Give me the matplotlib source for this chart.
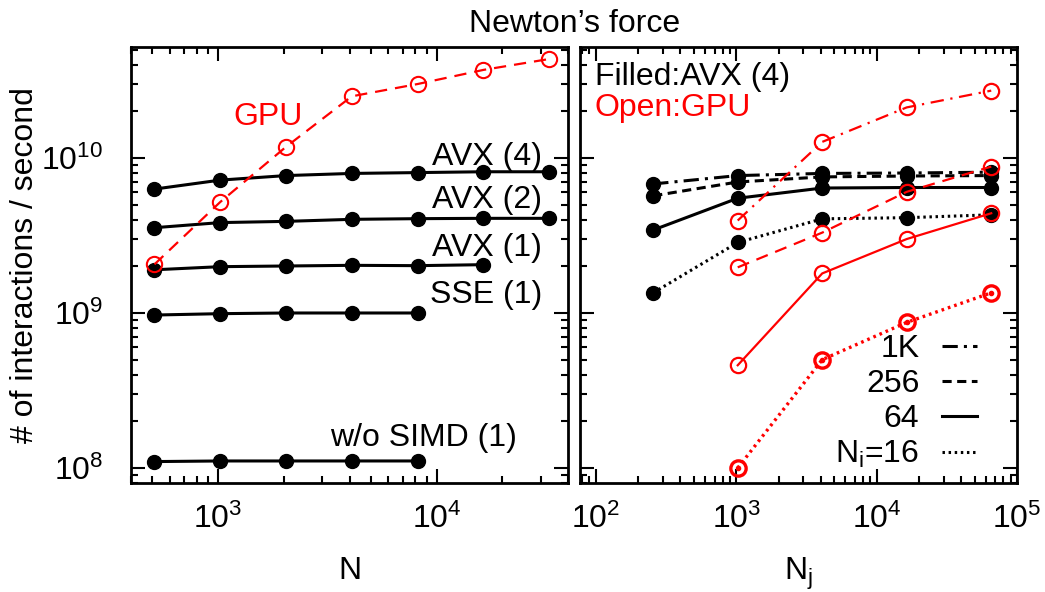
import matplotlib
matplotlib.use('Agg')
import matplotlib.pyplot as plt
from matplotlib.lines import Line2D

plt.rcParams['font.family'] = ['Liberation Sans', 'DejaVu Sans']
plt.rcParams['mathtext.fontset'] = 'custom'
plt.rcParams['mathtext.rm'] = 'Liberation Sans'
plt.rcParams['mathtext.it'] = 'Liberation Sans:italic'
plt.rcParams['mathtext.default'] = 'regular'

# ── Data: left panel (rate vs N) ─────────────────────────────────────────────
n_vals    = [512, 1024, 2048, 4096, 8192, 16384, 32768]
avx4      = [6.3e9, 7.2e9, 7.7e9, 7.95e9, 8.05e9, 8.15e9, 8.15e9]
avx2      = [3.55e9, 3.83e9, 3.9e9, 4.02e9, 4.06e9, 4.08e9, 4.08e9]
avx1      = [1.9e9, 1.99e9, 2.01e9, 2.03e9, 2.02e9, 2.05e9]
sse1      = [9.7e8, 9.9e8, 1.0e9, 1.0e9, 1.0e9]
no_simd   = [1.1e8, 1.11e8, 1.11e8, 1.11e8, 1.11e8]
gpu_n     = [2.06e9, 5.2e9, 1.18e10, 2.5e10, 3.0e10, 3.7e10, 4.35e10]

# ── Data: right panel (rate vs Nj, one curve per Ni) ─────────────────────────
nj_vals   = [256, 1024, 4096, 16384, 65536]
avx_1k    = [6.8e9, 7.7e9, 7.95e9, 8.0e9, 8.1e9]
avx_256   = [5.7e9, 7.0e9, 7.55e9, 7.65e9, 7.7e9]
avx_64    = [3.43e9, 5.5e9, 6.4e9, 6.45e9, 6.45e9]
avx_16    = [1.35e9, 2.85e9, 4.05e9, 4.12e9, 4.3e9]
nj_gpu    = [1024, 4096, 16384, 65536]
gpu_1k    = [3.95e9, 1.27e10, 2.12e10, 2.72e10]
gpu_256   = [1.97e9, 3.3e9, 6.05e9, 8.8e9]
gpu_64    = [4.6e8, 1.8e9, 3.0e9, 4.4e9]
gpu_16    = [1.0e8, 5.0e8, 8.7e8, 1.35e9]

left_labels  = ['AVX (4)', 'AVX (2)', 'AVX (1)', 'SSE (1)', 'w/o SIMD (1)']
legend_names = ['1K', '256', '64', '$N_i$=16']

RED = '#ff0000'
FS = 23
DASHDOT = (0, (5, 2, 1, 2))
DASHED = (0, (3, 1.8))
DOTTED = (0, (0.8, 1.2))


def style_axes(ax):
    ax.set_xscale('log')
    ax.set_yscale('log')
    ax.set_ylim(8e7, 5.2e10)
    ax.tick_params(which='both', direction='in', top=True, right=True,
                   width=1.5, labelsize=23)
    ax.tick_params(axis='x', which='both', pad=15)
    ax.tick_params(axis='y', which='both', pad=20)
    ax.tick_params(which='major', length=10)
    ax.tick_params(which='minor', length=5)
    for s in ax.spines.values():
        s.set_linewidth(2)


fig = plt.figure(figsize=(10.45, 5.92), dpi=100)
axl = fig.add_axes([0.1254, 0.1841, 0.4182, 0.7365])
axr = fig.add_axes([0.555, 0.1841, 0.4182, 0.7365])

# ── Left panel ──
black = dict(color='black', lw=2.2, marker='o', ms=10)
axl.plot(n_vals, avx4, **black)
axl.plot(n_vals, avx2, **black)
axl.plot(n_vals[:len(avx1)], avx1, **black)
axl.plot(n_vals[:len(sse1)], sse1, **black)
axl.plot(n_vals[:len(no_simd)], no_simd, **black)
axl.plot(n_vals, gpu_n, color=RED, lw=1.6, ls=(0, (5.5, 3.6)), marker='o',
         ms=11, mfc='none', mec=RED, mew=1.5)
style_axes(axl)
axl.set_xlim(400, 40000)
axl.set_xlabel('N', fontsize=FS, labelpad=15)

label_y = [0.748, 0.649, 0.539, 0.431]
for lab, y in zip(left_labels[:4], label_y):
    axl.text(0.94, y, lab, transform=axl.transAxes, ha='right', va='center',
             fontsize=FS)
axl.text(0.883, 0.103, left_labels[4], transform=axl.transAxes, ha='right',
         va='center', fontsize=FS)
axl.text(0.313, 0.839, 'GPU', transform=axl.transAxes, ha='center',
         va='center', fontsize=FS, color=RED)

# ── Right panel ──
styles = [DASHDOT, DASHED, '-', DOTTED]
for ys, ls in zip([avx_1k, avx_256, avx_64, avx_16], styles):
    axr.plot(nj_vals, ys, color='black', lw=2.2, ls=ls, marker='o', ms=10)
red_lw = [1.6, 1.6, 1.6, 2.4]
red_styles = [(0, (6, 3, 1, 3)), (0, (5.5, 3.6)), '-', DOTTED]
for ys, ls, lw in zip([gpu_1k, gpu_256, gpu_64, gpu_16], red_styles, red_lw):
    axr.plot(nj_gpu, ys, color=RED, lw=lw, ls=ls, marker='o', ms=11,
             mfc='none', mec=RED, mew=lw)
axr.plot(nj_gpu, gpu_16, ls='none', marker='o', ms=3, color=RED)
style_axes(axr)
axr.set_xlim(77, 1e5)
axr.tick_params(labelleft=False)
axr.set_xlabel('$N_j$', fontsize=FS, labelpad=15)

axr.text(0.034, 0.931, 'Filled:AVX (4)', transform=axr.transAxes, ha='left',
         va='center', fontsize=FS)
axr.text(0.034, 0.860, 'Open:GPU', transform=axr.transAxes, ha='left',
         va='center', fontsize=FS, color=RED)

handles = [Line2D([], [], color='black', lw=2.2, ls=ls) for ls in styles]
axr.legend(handles, legend_names, loc='lower right', frameon=False,
           markerfirst=False, fontsize=FS, handlelength=1.1,
           handletextpad=0.7, labelspacing=0.15, borderpad=0,
           borderaxespad=0, bbox_to_anchor=(0.908, 0.03))

fig.text(0.550, 0.946, 'Newton\u2019s force', ha='center', va='baseline',
         fontsize=FS)
fig.text(0.024, 0.552, '# of interactions / second', rotation=90,
         ha='center', va='center', fontsize=FS)

fig.savefig('out.png', dpi=100)
